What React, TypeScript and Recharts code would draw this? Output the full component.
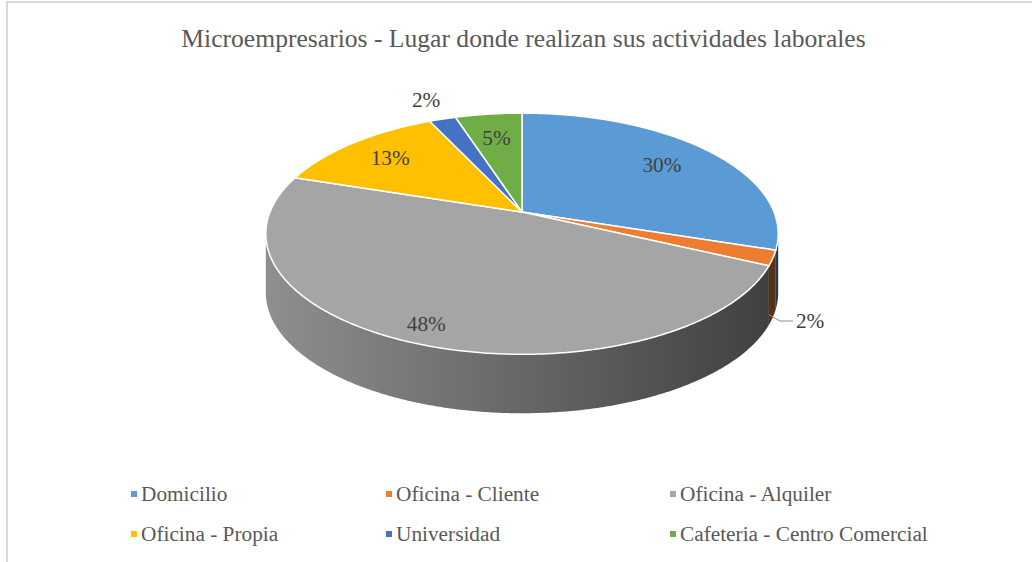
import React from "react";
import { PieChart, Pie, Cell, Legend } from "recharts";

const categories = [
  "Domicilio",
  "Oficina - Cliente",
  "Oficina - Alquiler",
  "Oficina - Propia",
  "Universidad",
  "Cafeteria - Centro Comercial",
];
const shares = [30, 2, 48, 13, 2, 5];
const colors = ["#5B9BD5", "#ED7D31", "#A5A5A5", "#FFC000", "#4472C4", "#70AD47"];

const data = categories.map((name, i) => ({ name, value: shares[i] }));

// fake 3D: tilt of the disc, perspective strength, wall depth (fractions of radius)
const TILT = 0.463;
const PERSP = 0.18;
const DEPTH = 0.234;
const RAD = Math.PI / 180;
// where the percentage sits along the mid angle, per slice
const LABEL_R = [0.74, 1, 0.88, 0.76, 1.25, 0.73];

const FONT = '"Liberation Serif", "Times New Roman", serif';

const proj = (cx: number, cy: number, r: number, a: number, f = 1) => {
  const u = f * Math.cos(a * RAD);
  const v = f * Math.sin(a * RAD);
  const d = 1 + PERSP * v;
  return [cx + (r * u) / d, cy - (r * TILT * v) / d];
};

const shade = (hex: string, k: number) => {
  const n = parseInt(hex.slice(1), 16);
  const c = [(n >> 16) & 255, (n >> 8) & 255, n & 255].map((x) => Math.round(x * k));
  return `rgb(${c[0]},${c[1]},${c[2]})`;
};

const arcPoints = (cx: number, cy: number, r: number, a0: number, a1: number) => {
  const steps = Math.max(2, Math.ceil(Math.abs(a1 - a0) / 0.5));
  const pts: number[][] = [];
  for (let s = 0; s <= steps; s++) pts.push(proj(cx, cy, r, a0 + ((a1 - a0) * s) / steps));
  return pts;
};

const renderSlice = (props: any) => {
  const { cx, cy, outerRadius: r, startAngle, endAngle, percent, index } = props;
  const color = colors[index];
  const H = r * DEPTH;
  const lo = Math.min(startAngle, endAngle);
  const hi = Math.max(startAngle, endAngle);
  const edge = (Math.asin(PERSP) * 180) / Math.PI;

  // front wall pieces
  const walls: string[] = [];
  for (const n of [-360, 0, 360]) {
    const a0 = Math.max(lo, -180 + edge + n);
    const a1 = Math.min(hi, -edge + n);
    if (a1 - a0 > 0.01) {
      const top = arcPoints(cx, cy, r, a0, a1);
      const bottom = top.slice().reverse().map(([x, y]) => [x, y + H]);
      const pts = top.concat(bottom);
      walls.push("M" + pts.map((p) => p.join(",")).join("L") + "Z");
    }
  }

  const topPts = arcPoints(cx, cy, r, startAngle, endAngle);
  const topPath = `M${cx},${cy}L` + topPts.map((p) => p.join(",")).join("L") + "Z";

  const mid = (startAngle + endAngle) / 2;
  const text = `${Math.round(percent * 100)}%`;
  const front = Math.sin(mid * RAD) < 0;
  const outside = percent < 0.03;

  let label: React.ReactNode;
  if (outside && front) {
    const [ex, ey] = proj(cx, cy, r, mid);
    const sx = ex - 5;
    const sy = ey + H * 0.95;
    label = (
      <g>
        <polyline
          points={`${sx},${sy} ${sx + 12},${sy + 7} ${sx + 25},${sy + 7}`}
          fill="none"
          stroke="#8c8c8c"
          strokeWidth={1}
        />
        <text x={sx + 28} y={sy + 7} fill="#404040" fontSize={21.3} fontFamily={FONT} dominantBaseline="central">
          {text}
        </text>
      </g>
    );
  } else {
    const [lx, ly] = proj(cx, cy, r, mid, LABEL_R[index]);
    label = (
      <text x={lx} y={ly} fill="#404040" fontSize={21.3} fontFamily={FONT} textAnchor="middle" dominantBaseline="central">
        {text}
      </text>
    );
  }

  return (
    <g>
      <defs>
        <linearGradient id={`wall-${index}`} gradientUnits="userSpaceOnUse" x1={cx - r} y1={0} x2={cx + r} y2={0}>
          <stop offset="0%" stopColor={shade(color, 0.86)} />
          <stop offset="100%" stopColor={shade(color, 0.38)} />
        </linearGradient>
      </defs>
      {walls.map((d, i) => (
        <path key={i} d={d} fill={`url(#wall-${index})`} stroke="none" />
      ))}
      <path d={topPath} fill={color} stroke="#ffffff" strokeWidth={1.5} strokeLinejoin="round" />
      {label}
    </g>
  );
};

const legendCols = [131, 386, 670];
const legendRows = [494, 534];

const renderLegend = () => (
  <div style={{ position: "relative", width: 1032, height: 90 }}>
    {categories.map((name, i) => {
      const left = legendCols[i % 3];
      const top = legendRows[Math.floor(i / 3)] - 470;
      return (
        <div
          key={name}
          style={{
            position: "absolute",
            left,
            top: top - 14,
            height: 28,
            display: "flex",
            alignItems: "center",
            whiteSpace: "nowrap",
            fontFamily: FONT,
            fontSize: 21.3,
            color: "#595959",
          }}
        >
          <span style={{ width: 6, height: 6, background: colors[i], marginRight: 4, display: "inline-block" }} />
          {name}
        </div>
      );
    })}
  </div>
);

export default function App() {
  return (
    <div style={{ position: "absolute", left: 0, top: 0, width: 1032, height: 562, overflow: "hidden", background: "#fff" }}>
      <div
        style={{
          position: "absolute",
          left: 6,
          top: 1,
          width: 1040,
          height: 580,
          borderLeft: "2px solid #d9d9d9",
          borderTop: "2px solid #d9d9d9",
        }}
      />
      <div
        style={{
          position: "absolute",
          left: 0,
          top: 24,
          width: 1047,
          textAlign: "center",
          fontFamily: FONT,
          fontSize: 25.6,
          color: "#595959",
          whiteSpace: "nowrap",
        }}
      >
        Microempresarios - Lugar donde realizan sus actividades laborales
      </div>
      <div style={{ position: "absolute", left: 0, top: 0 }}>
        <PieChart width={1032} height={562} margin={{ top: 0, right: 0, bottom: 0, left: 0 }}>
          <Pie
            data={data}
            dataKey="value"
            nameKey="name"
            cx={522}
            cy={212}
            outerRadius={252}
            startAngle={90}
            endAngle={-270}
            stroke="none"
            label={renderSlice}
            labelLine={false}
            isAnimationActive={false}
          >
            {data.map((d) => (
              <Cell key={d.name} fill="transparent" />
            ))}
          </Pie>
          <Legend content={renderLegend} wrapperStyle={{ position: "absolute", left: 0, top: 470, width: 1032 }} />
        </PieChart>
      </div>
    </div>
  );
}
